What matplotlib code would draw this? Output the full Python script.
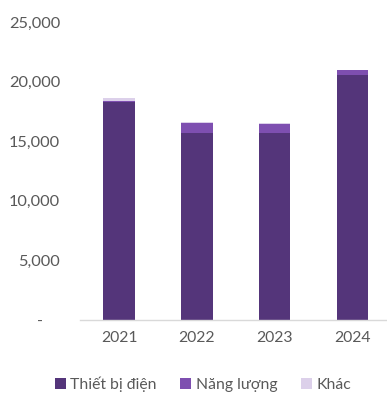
import matplotlib
matplotlib.use("Agg")
import matplotlib.pyplot as plt
from matplotlib.ticker import FuncFormatter

years = ["2021", "2022", "2023", "2024"]
thiet_bi_dien = [18330, 15720, 15720, 20580]
nang_luong = [60, 840, 760, 370]
khac = [260, 30, 30, 20]
series_names = ["Thiết bị điện", "Năng lượng", "Khác"]
colors = ["#54357A", "#7E4FB0", "#DCD0EA"]

plt.rcParams['font.family'] = ['Lato', 'DejaVu Sans']

fig = plt.figure(figsize=(3.87, 3.94), dpi=100)
ax = fig.add_axes([0.207, 0.188, 0.793, 0.756])

x = range(len(years))
w = 0.4
b1 = ax.bar(x, thiet_bi_dien, w, color=colors[0], label=series_names[0])
bottom2 = thiet_bi_dien
b2 = ax.bar(x, nang_luong, w, bottom=bottom2, color=colors[1], label=series_names[1])
bottom3 = [a + b for a, b in zip(thiet_bi_dien, nang_luong)]
b3 = ax.bar(x, khac, w, bottom=bottom3, color=colors[2], label=series_names[2])

ax.set_ylim(0, 25000)
ax.set_xlim(-0.5, 3.44)
ax.set_yticks([0, 5000, 10000, 15000, 20000, 25000])
ax.yaxis.set_major_formatter(FuncFormatter(lambda v, p: "-    " if v == 0 else f"{int(v):,}"))
ax.set_xticks(list(x))
ax.set_xticklabels(years)

for s in ["top", "right", "left"]:
    ax.spines[s].set_visible(False)
ax.spines["bottom"].set_color("#D9D9D9")
ax.spines["bottom"].set_linewidth(1.0)
ax.tick_params(axis="both", length=0, colors="#595959")
ax.tick_params(axis="y", pad=14.4, labelsize=11.8)
ax.tick_params(axis="x", pad=8, labelsize=11.3)

leg = fig.legend(handles=[b1, b2, b3], labels=series_names, loc="center",
                 bbox_to_anchor=(0.525, 0.025), ncol=3, frameon=False,
                 fontsize=11.3, handlelength=0.7, handleheight=0.7,
                 handletextpad=0.3, columnspacing=1.5, labelcolor="#595959")

fig.savefig("out.png", dpi=100)
